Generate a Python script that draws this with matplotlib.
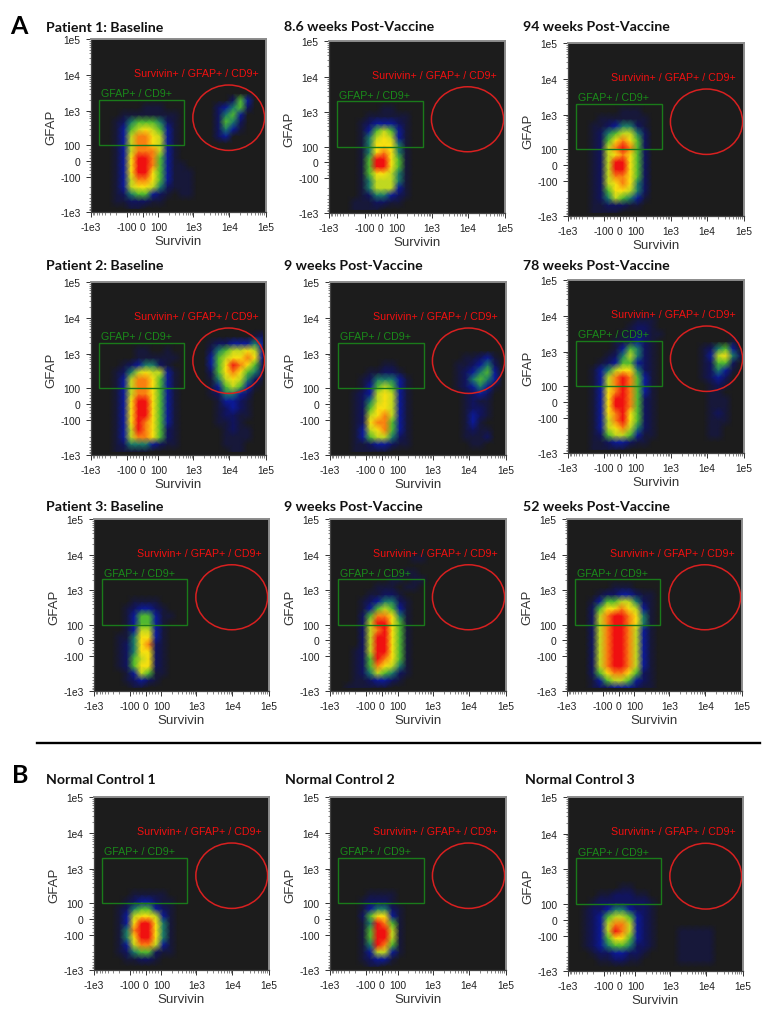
import numpy as np
import matplotlib
matplotlib.use("Agg")
import matplotlib.pyplot as plt
from matplotlib.colors import ListedColormap
from matplotlib.patches import Rectangle, Ellipse
from matplotlib.ticker import FixedLocator, NullFormatter

W, H = 769, 1020

# density levels 0-9 on a 24 x 24 grid, row 0 at the top
# short rows are padded with zeros on the right
p1_baseline = [""] * 8 + [
    "0000000000000000000253", "0000000111000000023452",
    "000011111111000002453", "0001245554210000025420",
    "0001356765310000024310", "00013688763100000230",
    "000136887631", "000136888631", "000137998531", "0001379985311", "00013799753111",
    "00013688753111", "00013677642111", "00012455321011", "000112221100", "000001100"]
p1_week8 = [""] * 9 + [
    "000000011000", "000001111110", "000012333210", "000013565310", "000014676310",
    "000014777410", "000014787410", "000015997510", "000015997510", "000015776410",
    "000014666410", "000014666310", "000012443210", "000111221100", "000111100000"]
p1_week94 = [""] * 9 + [
    "000000011100", "000011111110", "000112344210", "000124566420", "000125787520",
    "000126898520", "000126787520", "000126997520", "000126997520", "000126887520",
    "000126787420", "000125776420", "000124654310", "000112221100", "000111100000"]
p2_baseline = [""] * 7 + [
    "000000000000000000000012", "000000000000000012233343", "000000110010000024566763",
    "000000111111000035677873", "000012344210000035798752", "000124676631000025787542",
    "000136887531000014676421", "000136887531000013565310", "000136887531000012443200",
    "000137997531000001332100", "000137997531000001232100", "000137997531000001221100",
    "000137987531000001121000", "000136987521000000121100", "000136887521000000111100",
    "000124443211000000111000", "000111110000000000011000"]
p2_week9 = [""] * 10 + [
    "000000000000000000112310", "000000011000000001123420", "000001122100000001234530",
    "000012444310000001245430", "000013565310000001234310", "000123676310000000123200",
    "000124676310000000121100", "000125776310000000122100", "000126786310000000132100",
    "000127885310000000131000", "000136785310000000121100", "000135664210000000111200",
    "000112332110000000011000", "000111110000"]
p2_week78 = [""] * 5 + [
    "000000000111000000000000", "000000001221000000000000", "000000011221100000000000",
    "000000112321000000000010", "000000135421000000124530", "000001246421000000136742",
    "000012355321000000125520", "000134677421000000124310", "000136898531000000123200",
    "000136898531000000012100", "000137898531000000011000", "000137998521000000011100",
    "000137998521000000011100", "000137897521000000012100", "000136897521000000011100",
    "000136786421000000011000", "000125665311000000011000", "000112332110", "000111110000"]
p3_baseline = [""] * 11 + [
    "000001111000", "000012332100", "000013553110", "000013553100", "000013663100",
    "000114773100", "000124782100", "000124772100", "000125672100", "000125772100",
    "000013651100", "000012321000", "000001100"]
p3_week9 = [""] * 5 + ["000000000001100", "", "000000000011", "0000000011011",
    "000000111011", "000001122100", "000012344210", "000013565310", "000025887410",
    "000026997510", "000026897510", "000026997510", "000026997510", "000126997510",
    "000125987510", "000125876410", "000124654210", "000112332100", "001111110000"]
p3_week52 = [""] * 9 + [
    "00000011100", "000012233211", "000135566421", "000257787631", "000268998741",
    "000268998741", "000268998631", "000268998631", "000268998631", "000268998631",
    "000268998631", "000268998631", "000257887521", "000135665321", "000122333211"]
control1 = [""] * 13 + [
    "000001111100", "000012332110", "000124553210", "000136776310", "000137997410",
    "000148997410", "000147997410", "000136886310", "000124552110", "000011221000"]
control2 = [""] * 13 + [
    "000001111000", "000012221000", "000013442100", "000025773100", "000014985100",
    "000015996100", "000015996100", "000014985100", "000013663100", "000012331000",
    "000001100"]
control3 = [""] * 12 + [
    "000000011000", "000011222110", "000122222221", "001223443221", "001235665321",
    "001236886321", "001236986321000111110", "001235775321000111110",
    "001234554221000111110", "000122332210000111110", "000011221100000111110"]

titles = ["Patient 1: Baseline", "8.6 weeks Post-Vaccine", "94 weeks Post-Vaccine",
          "Patient 2: Baseline", "9 weeks Post-Vaccine", "78 weeks Post-Vaccine",
          "Patient 3: Baseline", "9 weeks Post-Vaccine", "52 weeks Post-Vaccine",
          "Normal Control 1", "Normal Control 2", "Normal Control 3"]
grids = [p1_baseline, p1_week8, p1_week94, p2_baseline, p2_week9, p2_week78,
         p3_baseline, p3_week9, p3_week52, control1, control2, control3]

tick_values = [-1000, -100, 0, 100, 1000, 10000, 100000]
tick_labels = ["-1e3", "-100", "0", "100", "1e3", "1e4", "1e5"]
tick_pos = [0, 0.204, 0.295, 0.385, 0.585, 0.79, 1]
tick_knots = [-2, -1, 0, 1, 2, 3, 4]
gate_x = [-580, 550]
gate_y = [100, 2050]

# axes boxes in pixels: left, right, top, bottom
boxes = [(91, 266, 40, 213), (329, 505, 42, 214), (568, 744, 44, 217),
         (91, 266, 283, 456), (330, 506, 283, 456), (568, 744, 281, 454),
         (94, 269, 520, 692), (330, 506, 520, 692), (567, 742, 520, 692),
         (94, 269, 798, 971), (330, 506, 798, 971), (568, 743, 798, 972)]
title_pos = [(46, 28), (284, 27), (523, 27), (46, 266), (284, 266), (523, 266),
             (46, 507), (284, 507), (523, 507), (46, 780), (285, 780), (525, 780)]

level_colors = ["#1c1c1c", "#17183a", "#11145e", "#0c1a98", "#1c7a68",
                "#50b830", "#c0d820", "#f8e010", "#f88010", "#f01010"]
flow_cmap = ListedColormap(level_colors)


def to_pos(v):
    v = np.asarray(v, dtype=float)
    a = np.maximum(np.abs(v), 100)
    u = np.where(np.abs(v) <= 100, v / 100, np.sign(v) * (np.log10(a) - 1))
    return np.interp(u, tick_knots, tick_pos)


def from_pos(p):
    u = np.interp(p, tick_pos, tick_knots)
    return np.where(np.abs(u) <= 1, u * 100, np.sign(u) * 10 ** (np.abs(u) + 1))


def grid_to_array(rows):
    return np.array([[int(c) for c in r.ljust(24, "0")[:24]] for r in rows])


minor_ticks = []
for decade in [100, 1000, 10000]:
    for m in range(2, 10):
        minor_ticks.append(m * decade)
        if decade == 100:
            minor_ticks.append(-m * decade)
minor_ticks += [-80, -60, -40, -20, 20, 40, 60, 80]

fig = plt.figure(figsize=(W / 100, H / 100), dpi=100, facecolor="white")
arial = ["Liberation Sans", "DejaVu Sans"]

for title, rows, box, tpos in zip(titles, grids, boxes, title_pos):
    left, right, top, bottom = box
    ax = fig.add_axes([left / W, 1 - bottom / H, (right - left) / W, (bottom - top) / H])
    ax.set_facecolor(level_colors[0])
    ax.set_xscale("function", functions=(to_pos, from_pos))
    ax.set_yscale("function", functions=(to_pos, from_pos))

    levels = grid_to_array((rows + [""] * 24)[:24])[::-1]
    centers = (np.arange(24) + 0.5) / 24
    ax.pcolormesh(from_pos(centers), from_pos(centers), levels, shading="gouraud",
                  cmap=flow_cmap, vmin=0, vmax=9, rasterized=True)
    ax.set_xlim(-1000, 100000)
    ax.set_ylim(-1000, 100000)

    ax.add_patch(Rectangle((gate_x[0], gate_y[0]), gate_x[1] - gate_x[0], gate_y[1] - gate_y[0],
                           fill=False, edgecolor="#1a7a1a", linewidth=1))
    ax.add_patch(Ellipse((0.787, 0.545), 0.41, 0.378, transform=ax.transAxes, fill=False,
                         edgecolor="#d82020", linewidth=1.1, clip_on=False))
    ax.text(0.057, 0.685, "GFAP+ / CD9+", transform=ax.transAxes, color="#1a8a1a",
            fontsize=7.7, family=arial, ha="left", va="center")
    ax.text(0.6, 0.803, "Survivin+ / GFAP+ / CD9+", transform=ax.transAxes, color="#f01010",
            fontsize=7.7, family=arial, ha="center", va="center")

    for axis in [ax.xaxis, ax.yaxis]:
        axis.set_major_locator(FixedLocator(tick_values))
        axis.set_minor_locator(FixedLocator(minor_ticks))
        axis.set_minor_formatter(NullFormatter())
        axis.set_ticklabels(tick_labels)
    ax.tick_params(which="major", length=3.5, width=0.7, color="#333333", pad=4,
                   labelsize=7.4, labelcolor="#222222")
    ax.tick_params(which="minor", length=1.8, width=0.5, color="#555555")
    for label in ax.get_xticklabels() + ax.get_yticklabels():
        label.set_family(arial)

    for side in ["top", "right"]:
        ax.spines[side].set_color("#8c8c8c")
        ax.spines[side].set_linewidth(1.4)
    for side in ["left", "bottom"]:
        ax.spines[side].set_color("#444444")
        ax.spines[side].set_linewidth(0.9)

    fig.text((left + right) / 2 / W, 1 - (bottom + 29) / H, "Survivin", fontsize=9.5, family=arial,
             color="#333333", ha="center", va="center")
    fig.text((left - 40) / W, 1 - (top + bottom + 2) / 2 / H, "GFAP", fontsize=9.5, family=arial,
             color="#333333", rotation=90, ha="center", va="center")
    fig.text(tpos[0] / W, 1 - tpos[1] / H, title, fontsize=10.2, fontweight="bold", family="Lato",
             color="#111111", ha="left", va="center")

fig.text(10 / W, 1 - 27 / H, "A", fontsize=18, fontweight="bold", family="Lato", ha="left", va="center")
fig.text(12 / W, 1 - 776 / H, "B", fontsize=18, fontweight="bold", family="Lato", ha="left", va="center")
fig.add_artist(plt.Line2D([37 / W, 760 / W], [1 - 744 / H, 1 - 744 / H], color="black", linewidth=1.7))

fig.savefig("out.png", dpi=100, facecolor="white")
